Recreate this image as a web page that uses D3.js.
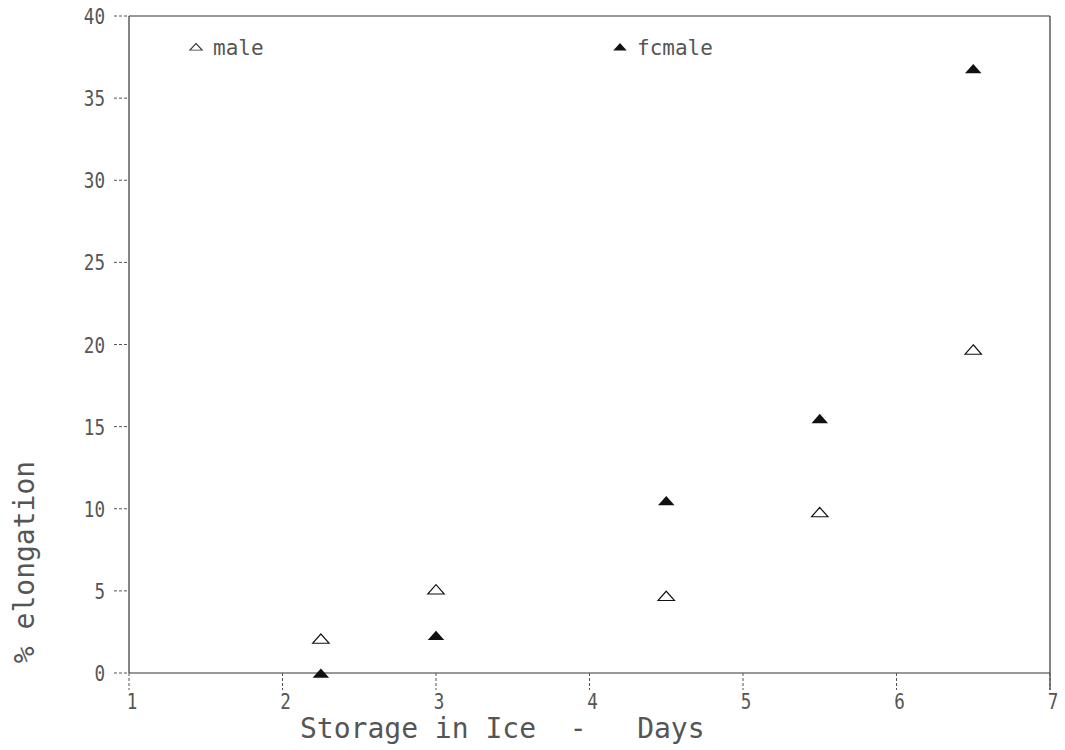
<!DOCTYPE html>
<html>
<head>
<meta charset="utf-8">
<script src="https://cdn.jsdelivr.net/npm/d3@7"></script>
<style>
  body { margin: 0; background: #fff; }
  text { font-family: "DejaVu Sans Mono", monospace; fill: #555; }
</style>
</head>
<body>
<svg id="mainSVG" width="1065" height="750"></svg>
<script>
// storage days and % elongation
var days = [2.25, 3, 4.5, 5.5, 6.5];
var male = [2.0, 5.0, 4.6, 9.7, 19.6];
var female = [-0.1, 2.2, 10.4, 15.4, 36.7];
var xTicks = [1, 2, 3, 4, 5, 6, 7];
var yTicks = [0, 5, 10, 15, 20, 25, 30, 35, 40];

var plot = { left: 129, right: 1050, top: 16, bottom: 673 };

var svg = d3.select("#mainSVG");

var x = d3.scaleLinear().domain([1, 7]).range([plot.left, plot.right]);
var y = d3.scaleLinear().domain([0, 40]).range([plot.bottom, plot.top]);

// frame: bottom axis, left axis, top and right edges
var frame = svg.append("g")
    .attr("stroke", "#333")
    .attr("stroke-width", 1.2)
    .attr("fill", "none");
frame.append("line")
    .attr("x1", x(1)).attr("x2", x(7))
    .attr("y1", y(0)).attr("y2", y(0));
frame.append("line")
    .attr("x1", x(1)).attr("x2", x(1))
    .attr("y1", y(40)).attr("y2", y(0));
frame.append("line")
    .attr("x1", x(1)).attr("x2", x(7))
    .attr("y1", y(40)).attr("y2", y(40));
frame.append("line")
    .attr("x1", x(7)).attr("x2", x(7))
    .attr("y1", y(40)).attr("y2", y(0) + 17);

// y ticks, dashed, pointing left
svg.append("g")
    .selectAll("line")
    .data(yTicks)
    .enter()
    .append("line")
    .attr("x1", x(1) - 15).attr("x2", x(1))
    .attr("y1", function(d) { return y(d); })
    .attr("y2", function(d) { return y(d); })
    .attr("stroke", "#555")
    .attr("stroke-width", 1)
    .attr("stroke-dasharray", "3,2");

svg.append("g")
    .selectAll("text")
    .data(yTicks)
    .enter()
    .append("text")
    .attr("transform", function(d) { return "translate(" + (x(1) - 24) + "," + (y(d) + 8) + ") scale(0.8,1)"; })
    .style("text-anchor", "end")
    .style("font-size", "22px")
    .text(function(d) { return d; });

// x ticks, dashed, pointing down
svg.append("g")
    .selectAll("line")
    .data(xTicks)
    .enter()
    .append("line")
    .attr("x1", function(d) { return x(d); })
    .attr("x2", function(d) { return x(d); })
    .attr("y1", y(0)).attr("y2", y(0) + 17)
    .attr("stroke", "#555")
    .attr("stroke-width", 1)
    .attr("stroke-dasharray", "3,2");

svg.append("g")
    .selectAll("text")
    .data(xTicks)
    .enter()
    .append("text")
    .attr("transform", function(d) { return "translate(" + (x(d) + 3) + "," + (y(0) + 36) + ") scale(0.8,1)"; })
    .style("text-anchor", "middle")
    .style("font-size", "22px")
    .text(function(d) { return d; });

// axis titles
svg.append("text")
    .attr("x", 300)
    .attr("y", 738)
    .style("font-size", "28px")
    .attr("xml:space", "preserve")
    .style("white-space", "pre")
    .text("Storage in Ice  -   Days");

svg.append("text")
    .attr("transform", "translate(34,562) rotate(-90)")
    .style("text-anchor", "middle")
    .style("font-size", "28px")
    .text("% elongation");

// triangle markers
var tri = d3.symbol().type(d3.symbolTriangle).size(70);

svg.append("g")
    .selectAll("path")
    .data(d3.range(days.length))
    .enter()
    .append("path")
    .attr("d", tri)
    .attr("transform", function(d) { return "translate(" + x(days[d]) + "," + y(male[d]) + ") scale(1.3,0.85)"; })
    .attr("fill", "#fff")
    .attr("stroke", "#111")
    .attr("stroke-width", 1.1);

svg.append("g")
    .selectAll("path")
    .data(d3.range(days.length))
    .enter()
    .append("path")
    .attr("d", tri)
    .attr("transform", function(d) { return "translate(" + x(days[d]) + "," + y(female[d]) + ") scale(1.3,0.85)"; })
    .attr("fill", "#111");

// legend
var tri2 = d3.symbol().type(d3.symbolTriangle).size(40);
svg.append("path")
    .attr("d", tri2)
    .attr("transform", "translate(196,48) scale(1.3,0.8)")
    .attr("fill", "#fff")
    .attr("stroke", "#333")
    .attr("stroke-width", 1);
svg.append("text")
    .attr("x", 213).attr("y", 55)
    .style("font-size", "21px")
    .text("male");
svg.append("path")
    .attr("d", tri2)
    .attr("transform", "translate(620,48) scale(1.4,0.9)")
    .attr("fill", "#111");
svg.append("text")
    .attr("x", 637).attr("y", 55)
    .style("font-size", "21px")
    .text("fcmale");
</script>
</body>
</html>
